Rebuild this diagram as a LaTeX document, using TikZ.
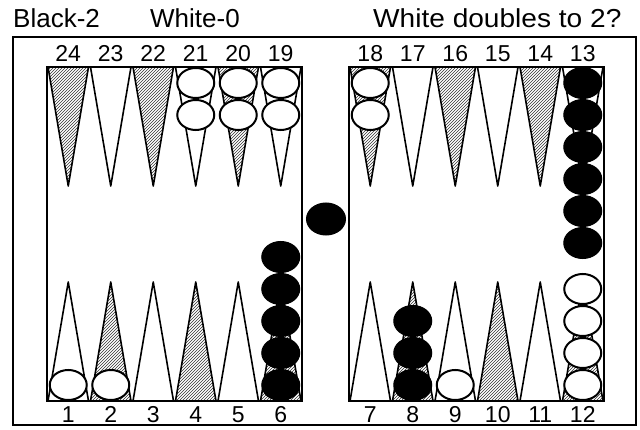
\documentclass[tikz,border=0pt]{standalone}
\usepackage{fontspec}
\setmainfont{Liberation Sans}
\usetikzlibrary{patterns}

\begin{document}
\begin{tikzpicture}[x=1pt, y=-1pt,
    frame/.style={draw, line width=1.8pt},
    pnt/.style={draw, line width=1.6pt, line join=round},
    shaded/.style={pnt, pattern=north east lines, pattern color=black!80},
    wchk/.style={draw, line width=2pt, fill=white},
    bchk/.style={draw, line width=1pt, fill=black},
    num/.style={font=\fontsize{23}{24}\selectfont, inner sep=0pt, anchor=base},
    title/.style={font=\fontsize{26}{27}\selectfont, inner sep=0pt, anchor=base west}
]
    \useasboundingbox (0,0) rectangle (640,430);
    % captions
    \node[title] (black) at (13,28) {Black-2};
    \node[title] (white) at (150,28) {White-0};
    \node[title, xscale=1.08] (cube) at (373,28) {White doubles to 2?};
    % frames
    \draw[frame] (13,37) rectangle (636,425);
    \draw[frame] (47,67) rectangle (302,401);
    \draw[frame] (349,67) rectangle (604,401);
    % points, left board (L=47) and right board (L=349)
    \foreach \L in {47,349} {
      \foreach \c in {0,...,5} {
        \pgfmathsetmacro{\a}{\L+\c*42.5+1}
        \pgfmathsetmacro{\b}{\L+(\c+1)*42.5-1}
        \pgfmathsetmacro{\m}{\L+(\c+0.5)*42.5}
        \ifodd\c
          \draw[pnt] (\a,67) -- (\m,186) -- (\b,67);
          \draw[shaded] (\a,401) -- (\m,282) -- (\b,401) -- cycle;
        \else
          \draw[shaded] (\a,67) -- (\m,186) -- (\b,67) -- cycle;
          \draw[pnt] (\a,401) -- (\m,282) -- (\b,401);
        \fi
      }
    }
    % point numbers
    \foreach \n [count=\i from 0] in {24,23,22,21,20,19} {
      \node[num] (n\n) at (68.25+\i*42.5,62) {\n};
    }
    \foreach \n [count=\i from 0] in {18,17,16,15,14,13} {
      \node[num] (n\n) at (370.25+\i*42.5,62) {\n};
    }
    \foreach \n [count=\i from 0] in {1,2,3,4,5,6} {
      \node[num] (n\n) at (68.25+\i*42.5,422) {\n};
    }
    \foreach \n [count=\i from 0] in {7,8,9,10,11,12} {
      \node[num] (n\n) at (370.25+\i*42.5,422) {\n};
    }
    % white checkers
    \foreach \x/\k in {195.75/2,238.25/2,280.75/2,370.25/2} {
      \foreach \j in {1,...,\k} \draw[wchk] (\x,51+\j*32) ellipse (18.5 and 15);
    }
    \foreach \x/\k in {68.25/1,110.75/1,455.25/1,582.75/4} {
      \foreach \j in {1,...,\k} \draw[wchk] (\x,417-\j*32) ellipse (18.5 and 15);
    }
    % black checkers
    \foreach \j in {1,...,6} \draw[bchk] (582.75,51+\j*32) ellipse (19 and 15.5);
    \foreach \j in {1,...,5} \draw[bchk] (280.75,417-\j*32) ellipse (19 and 15.5);
    \foreach \j in {1,...,3} \draw[bchk] (412.75,417-\j*32) ellipse (19 and 15.5);
    \draw[bchk] (326,219) ellipse (19.5 and 16);
\end{tikzpicture}
\end{document}
